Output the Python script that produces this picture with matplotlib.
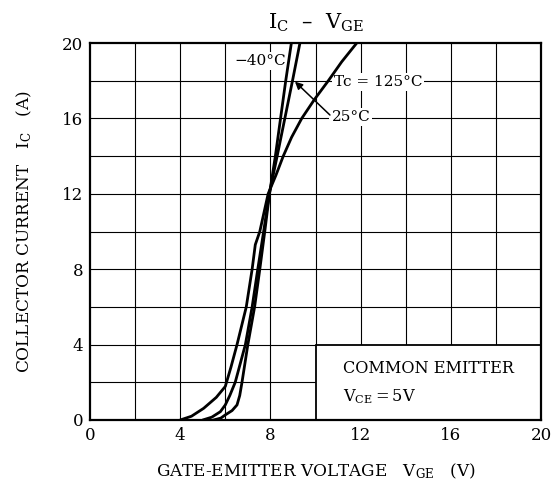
import matplotlib
matplotlib.use("Agg")
import matplotlib.pyplot as plt
from matplotlib.patches import Rectangle

plt.rcParams['font.family'] = ['DejaVu Serif']
plt.rcParams['mathtext.fontset'] = 'dejavuserif'

# ---- data ----
ic_m40 = [0, 0.1, 0.27, 0.5, 0.8, 1.3, 2.0, 4.0, 6.0, 8.0, 10.0, 12.0, 14.0, 16.0, 18.0, 20.0]
vge_m40 = [5.48, 5.8, 6.0, 6.3, 6.52, 6.64, 6.74, 7.0, 7.3, 7.53, 7.75, 7.96, 8.22, 8.45, 8.68, 8.93]

ic_25 = [0, 0.15, 0.44, 0.8, 1.3, 2.0, 4.0, 6.0, 8.0, 10.0, 12.0, 14.0, 16.0, 18.0, 20.0]
vge_25 = [5.0, 5.4, 5.78, 6.0, 6.2, 6.44, 6.89, 7.19, 7.44, 7.7, 7.95, 8.3, 8.64, 8.98, 9.31]

ic_125 = [0, 0.2, 0.62, 1.2, 1.78, 2.8, 4.0, 6.0, 8.0, 9.3, 10.0, 12.0, 13.0, 14.0,
          15.0, 16.0, 17.0, 18.0, 19.0, 20.0]
vge_125 = [4.0, 4.5, 5.04, 5.6, 6.0, 6.25, 6.52, 6.93, 7.19, 7.33, 7.53, 7.9, 8.25, 8.57,
           8.94, 9.39, 9.95, 10.57, 11.16, 11.83]

x_ticks = [0, 4, 8, 12, 16, 20]
y_ticks = [0, 4, 8, 12, 16, 20]

fig = plt.figure(figsize=(5.58, 4.84), dpi=100)
ax = fig.add_axes([90/558, 1-420/484, (541-90)/558, (420-43)/484])
ax.set_xlim(0, 20)
ax.set_ylim(0, 20)

# grid every 2 units
for g in range(2, 20, 2):
    ax.axvline(g, color='black', lw=0.8, zorder=1)
    ax.axhline(g, color='black', lw=0.8, zorder=1)

ax.set_xticks(x_ticks)
ax.set_yticks(y_ticks)
ax.tick_params(length=0, labelsize=12, pad=5)
for s in ax.spines.values():
    s.set_linewidth(1.6)
    s.set_zorder(10)

# curves
for v, i in [(vge_m40, ic_m40), (vge_25, ic_25), (vge_125, ic_125)]:
    ax.plot(v, i, color='black', lw=2.0, solid_joinstyle='round',
            solid_capstyle='round', zorder=4, clip_on=True)

# common emitter box
ax.add_patch(Rectangle((10, 0), 10, 4, facecolor='white', edgecolor='black',
                       lw=1.3, zorder=5))
ax.text(11.2, 2.73, 'COMMON EMITTER', fontsize=11.6, va='center', ha='left', zorder=6)
ax.text(11.2, 1.25, r'$\mathregular{V_{CE}}$$\mathregular{=5V}$', fontsize=11.6,
        va='center', ha='left', zorder=6)

bb = dict(facecolor='white', edgecolor='none', pad=1.5)
ax.text(7.54, 19.06, '\u221240°C', fontsize=11, ha='center', va='center',
        bbox=bb, zorder=3)
ax.text(12.77, 17.95, 'Tc = 125°C', fontsize=11, ha='center', va='center',
        bbox=bb, zorder=3)
ax.text(11.57, 16.06, '25°C', fontsize=11, ha='center', va='center',
        bbox=bb, zorder=3)
ax.annotate('', xy=(9.09, 17.95), xytext=(10.64, 16.18),
            arrowprops=dict(arrowstyle='-|>', color='black', lw=1.1,
                            mutation_scale=11, shrinkA=0, shrinkB=0),
            zorder=6)

ax.set_xlabel(r'GATE-EMITTER VOLTAGE   $\mathregular{V_{GE}}$   (V)',
              fontsize=12.2, labelpad=13)
ax.set_ylabel(r'COLLECTOR CURRENT   $\mathregular{I_C}$   (A)',
              fontsize=12.2, labelpad=20)
ax.set_title(r'$\mathregular{I_C}$  –  $\mathregular{V_{GE}}$', fontsize=15, pad=10)

fig.savefig('out.png', dpi=100)
